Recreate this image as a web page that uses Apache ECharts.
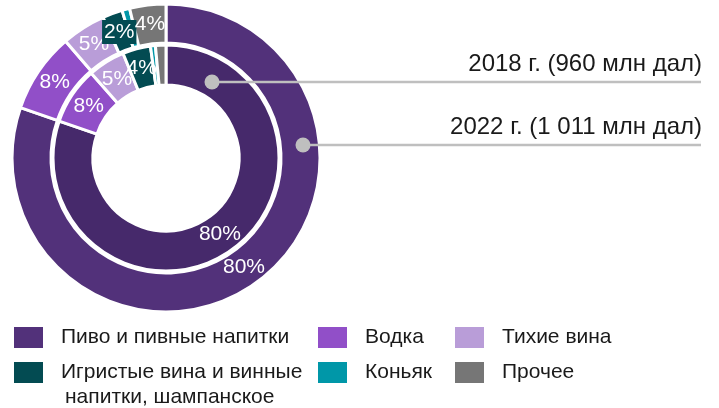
<!DOCTYPE html>
<html><head><meta charset="utf-8">
<script src="https://cdn.jsdelivr.net/npm/echarts@6/dist/echarts.min.js"></script>
<style>html,body{margin:0;padding:0;background:#fff}#c{width:719px;height:408px}</style>
</head><body><div id="c"></div>
<script>
const categories = ['Пиво и пивные напитки','Водка','Тихие вина','Игристые вина и винные напитки, шампанское','Коньяк','Прочее'];
const share2018 = [80.3, 8.2, 5.3, 4.0, 0.7, 1.5];
const share2022 = [80.3, 8.4, 4.6, 2.1, 0.8, 3.8];
const yearLabels = ['2018 г. (960 млн дал)', '2022 г. (1 011 млн дал)'];
const colors = ['#52317a','#914fc8','#b99dd8','#034b52','#0097a8','#767676'];
const innerBeerColor = '#46296b';

const FONT = "'Liberation Sans', Arial, sans-serif";
const cx = 166, cy = 158;
const innerR = [73, 113], outerR = [115, 154];
const chart = echarts.init(document.getElementById('c'));

function makeData(vals, inner) {
  return categories.map((n, i) => {
    const d = { name: n, value: vals[i], itemStyle: { color: (inner && i === 0) ? innerBeerColor : colors[i] } };
    if (vals[i] < 2) d.label = { show: false };
    if (!inner && i === 3) d.label = { backgroundColor: colors[3], padding: [2, 2, 1, 2] };
    return d;
  });
}
function labelCfg() {
  return { show: true, position: 'outside', color: '#fff', fontSize: 21, fontFamily: FONT,
    distanceToLabelLine: 0, formatter: p => Math.round(p.value) + '%' };
}
function lineCfg(r) {
  return { show: false, length: -(r[1] - r[0]) / 2, length2: 0 };
}

const lineColor = '#bfbfbf';
const dots = [[212, 82], [303, 145]];
const textY = [64, 127];
const graphics = [];
dots.forEach((d, i) => {
  graphics.push({ type: 'line', shape: { x1: d[0], y1: d[1], x2: 701, y2: d[1] }, style: { stroke: lineColor, lineWidth: 2.5 }, z: 100 });
  graphics.push({ type: 'circle', shape: { cx: d[0], cy: d[1], r: 7.5 }, style: { fill: lineColor }, z: 101 });
  graphics.push({ type: 'text', x: 702, y: textY[i], style: { text: yearLabels[i], fill: '#1a1a1a', font: '24px ' + FONT, textAlign: 'right', textVerticalAlign: 'middle' }, z: 100 });
});
graphics.push({ type: 'text', x: 65, y: 397, style: { text: 'напитки, шампанское', fill: '#1a1a1a', font: '21px ' + FONT, textAlign: 'left', textVerticalAlign: 'middle' } });

const legendBase = { orient: 'vertical', top: 325, padding: 0, itemWidth: 31, itemHeight: 23, itemGap: 10, icon: 'rect', selectedMode: false,
  textStyle: { fontSize: 21, fontFamily: FONT, color: '#1a1a1a', padding: [0, 0, 0, 12] },
  formatter: n => n === categories[3] ? 'Игристые вина и винные' : n };

chart.setOption({
  animation: false,
  legend: [
    Object.assign({}, legendBase, { left: 12, data: [categories[0], categories[3]] }),
    Object.assign({}, legendBase, { left: 316, data: [categories[1], categories[4]] }),
    Object.assign({}, legendBase, { left: 453, data: [categories[2], categories[5]] })
  ],
  series: [
    { type: 'pie', name: '2022', center: [cx, cy], radius: outerR, startAngle: 90, clockwise: true, avoidLabelOverlap: false,
      itemStyle: { borderColor: '#fff', borderWidth: 3 }, label: labelCfg(), labelLine: lineCfg(outerR),
      labelLayout: { align: 'center', hideOverlap: false },
      emphasis: { disabled: true }, data: makeData(share2022, false) },
    { type: 'pie', name: '2018', center: [cx, cy], radius: innerR, startAngle: 90, clockwise: true, avoidLabelOverlap: false,
      itemStyle: { borderColor: '#fff', borderWidth: 3 }, label: labelCfg(), labelLine: lineCfg(innerR),
      labelLayout: { align: 'center', hideOverlap: false },
      emphasis: { disabled: true }, data: makeData(share2018, true) }
  ],
  graphic: graphics
});
</script></body></html>
